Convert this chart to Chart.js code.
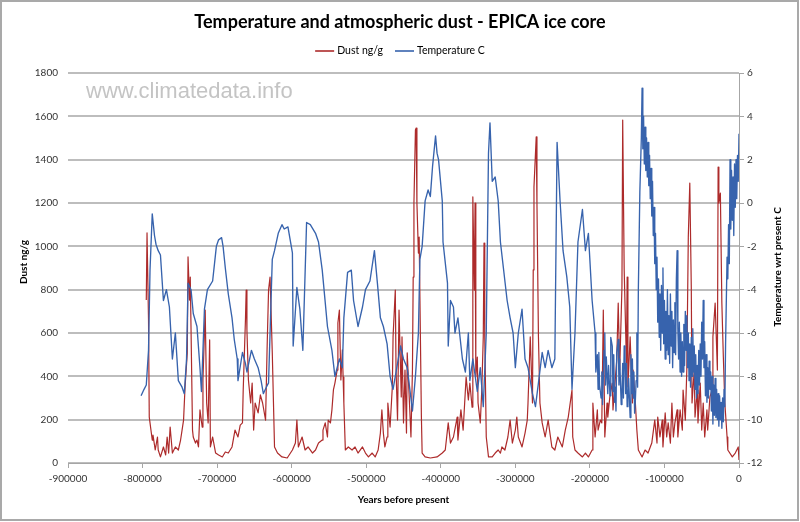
<!DOCTYPE html>
<html><head><meta charset="utf-8">
<script src="https://cdn.jsdelivr.net/npm/chart.js@4.4.1/dist/chart.umd.min.js"></script>
<style>html,body{margin:0;padding:0;background:#fff}canvas{display:block}</style>
</head><body>
<canvas id="c" width="800" height="522"></canvas>
<script>
// ---------- data ----------
const chartTitle = 'Temperature and atmospheric dust - EPICA ice core';
const seriesNames = ['Dust ng/g', 'Temperature C'];
const xTitle = 'Years before present';
const leftTitle = 'Dust ng/g';
const rightTitle = 'Temperature wrt present C';
const watermark = 'www.climatedata.info';
const xTicks = [-900000, -800000, -700000, -600000, -500000, -400000, -300000, -200000, -100000, 0];
const dustTicks = [0, 200, 400, 600, 800, 1000, 1200, 1400, 1600, 1800];
const tempTicks = [-12, -10, -8, -6, -4, -2, 0, 2, 4, 6];

// [thousand years before present, dust ng/g]
const dust = [
[-795,752],[-794,1062],[-792,660],[-791,212],[-787,106],[-786,129],[-783,60],[-780,120],[-779,60],[-776,28],[-772,74],[-769,37],[-767,120],[-765,46],[-763,166],[-760,46],[-756,74],[-752,60],[-749,106],[-747,152],[-745,198],[-743,351],[-740,508],[-739,951],[-737,752],[-736,858],[-733,152],[-732,120],[-729,92],[-727,106],[-725,74],[-723,245],[-720,166],[-719,383],[-716,706],[-714,277],[-712,185],[-710,568],[-709,74],[-706,120],[-702,46],[-698,37],[-693,28],[-689,51],[-685,46],[-680,74],[-676,152],[-672,120],[-669,175],[-666,185],[-665,337],[-662,660],[-661,798],[-660,614],[-658,383],[-655,277],[-653,369],[-651,152],[-649,277],[-645,231],[-642,314],[-639,277],[-635,198],[-633,522],[-631,798],[-629,858],[-626,508],[-623,74],[-619,46],[-613,28],[-606,23],[-599,60],[-595,92],[-593,198],[-591,74],[-586,120],[-582,60],[-578,74],[-572,46],[-568,60],[-564,92],[-559,106],[-558,152],[-555,185],[-552,120],[-551,198],[-548,185],[-546,245],[-544,337],[-542,369],[-539,429],[-538,646],[-536,706],[-534,383],[-532,522],[-531,397],[-530,277],[-528,60],[-524,74],[-519,60],[-515,74],[-511,46],[-505,74],[-501,46],[-497,28],[-492,46],[-488,28],[-484,60],[-481,138],[-479,245],[-477,138],[-475,74],[-472,120],[-471,277],[-468,166],[-465,351],[-464,582],[-461,798],[-460,429],[-458,198],[-456,706],[-453,305],[-452,582],[-450,185],[-448,429],[-446,138],[-445,508],[-442,277],[-440,120],[-438,429],[-437,858],[-436,1200],[-434,1537],[-433,1546],[-432,1200],[-430,969],[-429,1043],[-426,212],[-425,46],[-421,28],[-414,23],[-405,28],[-398,46],[-394,60],[-390,185],[-387,92],[-383,120],[-378,212],[-377,106],[-373,245],[-370,152],[-366,397],[-363,291],[-361,369],[-358,258],[-357,1228],[-355,798],[-354,1200],[-353,397],[-351,489],[-350,277],[-347,185],[-345,337],[-343,582],[-342,1015],[-341,582],[-339,120],[-336,28],[-331,28],[-327,46],[-323,60],[-320,46],[-318,74],[-314,60],[-310,120],[-307,198],[-304,92],[-300,152],[-298,212],[-296,120],[-291,74],[-287,138],[-284,198],[-283,277],[-280,582],[-277,277],[-276,891],[-275,1274],[-272,1505],[-271,1200],[-269,582],[-267,277],[-264,185],[-260,120],[-256,198],[-251,74],[-247,60],[-243,120],[-237,74],[-233,152],[-229,212],[-224,337],[-223,120],[-220,60],[-216,46],[-210,28],[-206,46],[-202,28],[-197,60],[-196,277],[-193,120],[-190,245],[-189,152],[-186,198],[-184,185],[-182,706],[-180,120],[-177,277],[-176,212],[-173,314],[-170,369],[-169,245],[-166,383],[-164,475],[-162,738],[-160,429],[-157,812],[-156,1583],[-154,891],[-151,462],[-150,858],[-149,351],[-146,582],[-143,277],[-142,429],[-139,277],[-137,152],[-135,60],[-130,28],[-126,60],[-122,46],[-117,92],[-113,198],[-110,92],[-109,212],[-106,120],[-103,198],[-102,74],[-99,231],[-97,120],[-95,185],[-92,92],[-90,277],[-88,120],[-86,185],[-83,245],[-82,120],[-79,245],[-76,152],[-75,337],[-72,198],[-70,429],[-68,1043],[-66,1292],[-64,812],[-63,277],[-60,429],[-59,212],[-56,337],[-55,185],[-52,369],[-50,152],[-48,277],[-46,120],[-43,245],[-42,152],[-39,305],[-36,337],[-35,582],[-32,738],[-29,429],[-28,1366],[-27,1200],[-25,1246],[-23,738],[-21,489],[-19,277],[-16,120],[-15,60],[-9,28],[-5,46],[-1,74],[0,14]
];

// [thousand years before present, temperature C relative to present]
const temperature = [
[-802,-8.9],[-798,-8.6],[-795,-8.4],[-792,-6.8],[-790,-3.1],[-787,-0.5],[-784,-1.5],[-782,-1.9],[-779,-2.2],[-776,-2.4],[-772,-4.5],[-768,-4.0],[-764,-4.8],[-760,-7.2],[-756,-6.0],[-752,-8.2],[-747,-8.5],[-744,-8.8],[-741,-7.2],[-739,-3.7],[-735,-4.0],[-732,-5.1],[-727,-5.7],[-723,-7.6],[-721,-8.7],[-717,-4.9],[-713,-4.0],[-706,-3.6],[-701,-2.0],[-698,-1.7],[-694,-1.6],[-692,-2.0],[-689,-3.0],[-685,-4.2],[-680,-5.3],[-677,-6.3],[-673,-7.2],[-672,-8.2],[-666,-6.9],[-662,-7.4],[-660,-7.8],[-654,-6.8],[-650,-7.2],[-645,-7.6],[-641,-8.2],[-638,-8.8],[-634,-8.5],[-631,-8.3],[-626,-2.6],[-623,-2.2],[-618,-1.4],[-613,-1.0],[-610,-1.2],[-605,-1.1],[-599,-2.3],[-598,-6.6],[-593,-3.9],[-589,-4.9],[-585,-6.8],[-580,-0.9],[-575,-1.0],[-568,-1.4],[-564,-1.8],[-559,-3.1],[-552,-5.7],[-546,-6.8],[-542,-8.0],[-536,-7.2],[-532,-7.6],[-530,-5.3],[-525,-3.2],[-520,-3.1],[-517,-4.5],[-511,-5.7],[-505,-4.8],[-501,-4.0],[-495,-3.6],[-489,-2.2],[-485,-3.7],[-481,-5.3],[-477,-5.7],[-472,-6.5],[-468,-8.0],[-464,-8.6],[-458,-7.4],[-454,-6.6],[-450,-7.2],[-445,-7.6],[-438,-9.6],[-434,-8.0],[-430,-6.0],[-428,-2.6],[-425,-2.0],[-421,0.1],[-417,0.6],[-414,0.3],[-411,1.7],[-407,3.1],[-405,2.3],[-403,2.0],[-398,0.1],[-397,-1.8],[-391,-3.7],[-390,-6.6],[-387,-4.5],[-383,-4.8],[-381,-6.0],[-377,-5.3],[-371,-7.2],[-367,-7.8],[-363,-6.0],[-361,-8.2],[-357,-7.2],[-351,-8.7],[-347,-7.6],[-343,-9.4],[-339,-6.0],[-336,2.3],[-334,3.7],[-331,1.0],[-327,1.2],[-323,0.1],[-320,-1.8],[-316,-3.0],[-311,-4.5],[-307,-5.3],[-303,-6.0],[-300,-7.6],[-296,-6.0],[-291,-4.9],[-287,-7.2],[-283,-7.6],[-277,-8.8],[-273,-9.4],[-269,-8.3],[-264,-6.9],[-260,-7.6],[-256,-6.8],[-251,-7.6],[-247,-7.2],[-244,2.8],[-240,0.1],[-236,-2.2],[-231,-3.4],[-227,-4.8],[-224,-8.6],[-220,-6.0],[-216,-1.8],[-210,-0.3],[-206,-2.2],[-202,-1.4],[-197,-4.5],
[-193,-6.0],[-192,-7.8],[-190,-7.0],[-189,-8.6],[-188,-6.9],[-187,-8.4],[-185,-9.0],[-184,-7.8],[-183,-9.3],[-181,-6.8],[-180,-6.0],[-179,-8.4],[-178,-7.1],[-176,-8.8],[-175,-7.5],[-173,-8.9],[-172,-6.2],[-170,-6.6],[-169,-8.7],[-168,-7.0],[-167,-9.2],[-166,-8.5],[-165,-9.6],[-164,-6.9],[-162,-6.3],[-161,-8.4],[-160,-7.2],[-158,-9.3],[-157,-8.8],[-156,-7.4],[-155,-9.0],[-154,-6.6],[-153,-6.9],[-152,-8.8],[-151,-7.4],[-150,-9.4],[-149,-9.1],[-148,-8.1],[-146,-9.9],[-145,-7.0],[-144,-8.8],[-143,-7.2],[-142,-9.0],[-141,-7.8],[-140,-9.7],[-139,-9.1],[-138,-8.2],[-137,-6.0],[-136,-8.5],[-135,-4.0],[-133,0.5],[-131,3.0],
[-130,5.3],[-129,2.5],[-128,4.0],[-127,1.8],[-126,3.5],[-125,1.5],[-124,3.0],[-123,1.2],[-122,2.8],[-121,0.8],[-120,2.2],[-119,0.2],[-118,1.6],[-117,-0.6],[-116,1.0],[-115,-1.5],[-114,-0.2],[-113,-2.8],[-112,-1.4],[-111,-4.0],[-110,-2.5],[-109,-5.5],[-108,-3.5],[-107,-6.2],[-106,-4.2],[-105,-6.8],[-104,-3.8],[-103,-6.0],[-102,-3.0],[-101,-6.5],[-100,-4.5],[-99,-7.2],[-98,-5.0],[-97,-6.8],[-96,-4.0],[-95,-7.0],[-94,-5.2],[-93,-7.4],[-92,-4.2],[-91,-6.6],[-90,-5.0],[-89,-7.6],[-88,-5.4],[-87,-6.9],[-86,-4.6],[-85,-7.0],[-84,-3.5],[-83,-2.2],[-82,-5.8],[-81,-7.2],[-80,-5.5],[-79,-7.8],[-78,-6.0],[-77,-8.0],[-76,-6.4],[-75,-7.8],[-74,-5.6],[-73,-7.5],[-72,-5.0],[-71,-6.8],[-70,-5.2],[-69,-7.6],[-68,-6.0],[-67,-8.2],[-66,-6.5],[-65,-8.5],[-64,-6.2],[-63,-8.0],[-62,-5.8],[-61,-7.8],[-60,-6.6],[-59,-8.6],[-58,-7.0],[-57,-9.0],[-56,-7.5],[-55,-8.8],[-54,-6.8],[-53,-8.4],[-52,-6.5],[-51,-8.0],[-50,-5.5],[-49,-7.2],[-48,-4.5],[-47,-7.6],[-46,-6.4],[-45,-8.9],[-44,-7.0],[-43,-9.2],[-42,-7.6],[-41,-9.0],[-40,-7.3],[-39,-8.6],[-38,-7.8],[-37,-9.6],[-36,-8.0],[-35,-10.2],[-34,-8.4],[-33,-9.8],[-32,-8.1],[-31,-9.9],[-30,-8.6],[-29,-10.0],[-28,-8.8],[-27,-10.3],[-26,-8.9],[-25,-10.0],[-24,-9.2],[-23,-10.4],[-22,-9.0],[-21,-10.1],[-20,-8.6],[-19,-9.4],[-18,-6.5],[-17,-4.5],[-16,-2.5],[-15,-3.5],[-14,-1.0],[-13,-2.8],[-12,2.0],[-11,-1.2],[-10,1.5],[-9,-0.8],[-8,1.2],[-7,-1.5],[-6,1.8],[-5,-0.2],[-4,2.0],[-3,0.2],[-2,2.2],[-1,1.0],[0,3.2]
];

// ---------- styling ----------
const FONT = 'Lato, "Open Sans", sans-serif';
const DUST_COLOR = '#ad2b2b';
const TEMP_COLOR = '#3763ad';
const GRID_COLOR = '#bdbdbd';
const AXIS_COLOR = '#a6a6a6';
const TICK_COLOR = '#333333';

const toPoints = arr => arr.map(([k, v]) => ({x: k * 1000, y: v}));
const fixTicks = list => scale => { scale.ticks = list.map(v => ({value: v})); };
const plainLabel = v => String(v);

const deco = {
  id: 'deco',
  beforeDraw(chart) {
    const ctx = chart.ctx;
    ctx.save();
    ctx.fillStyle = '#ffffff';
    ctx.fillRect(0, 0, chart.width, chart.height);
    ctx.restore();
  },
  beforeDatasetsDraw(chart) {
    const ctx = chart.ctx;
    ctx.save();
    ctx.font = '22px "Liberation Sans", Arial, sans-serif';
    ctx.fillStyle = '#c4c4c4';
    ctx.textBaseline = 'alphabetic';
    ctx.textAlign = 'left';
    ctx.fillText(watermark, 86, 98);
    ctx.restore();
  },
  afterDraw(chart) {
    const ctx = chart.ctx;
    ctx.save();
    // outer frame
    ctx.strokeStyle = '#a9a9a9';
    ctx.lineWidth = 2;
    ctx.strokeRect(1, 1, 797, 519);
    // legend
    ctx.font = '10.5px ' + FONT;
    ctx.textBaseline = 'middle';
    ctx.textAlign = 'left';
    const sw = 19, gap = 3, itemGap = 12, ly = 51;
    const items = chart.data.datasets.map(d => ({text: d.label, color: d.borderColor, w: ctx.measureText(d.label).width}));
    const total = items.reduce((s, it) => s + sw + gap + it.w, 0) + itemGap * (items.length - 1);
    let x = 400 - total / 2;
    items.forEach(it => {
      ctx.strokeStyle = it.color;
      ctx.globalAlpha = 0.8;
      ctx.lineWidth = 2;
      ctx.beginPath(); ctx.moveTo(x, ly); ctx.lineTo(x + sw, ly); ctx.stroke();
      ctx.globalAlpha = 1;
      ctx.fillStyle = '#000';
      ctx.fillText(it.text, x + sw + gap, ly);
      x += sw + gap + it.w + itemGap;
    });
    // vertical axis titles (both read bottom to top)
    ctx.font = 'bold 10px ' + FONT;
    ctx.textAlign = 'center';
    ctx.fillStyle = '#000';
    ctx.save(); ctx.translate(24, 262); ctx.rotate(-Math.PI / 2); ctx.fillText(leftTitle, 0, 0); ctx.restore();
    ctx.save(); ctx.translate(778, 267); ctx.rotate(-Math.PI / 2); ctx.fillText(rightTitle, 0, 0); ctx.restore();
    ctx.restore();
  }
};

new Chart(document.getElementById('c'), {
  type: 'line',
  data: {
    datasets: [
      {label: seriesNames[0], data: toPoints(dust), yAxisID: 'y', borderColor: DUST_COLOR, backgroundColor: DUST_COLOR,
       borderWidth: 1.2, pointRadius: 0, tension: 0, borderJoinStyle: 'round', order: 2},
      {label: seriesNames[1], data: toPoints(temperature), yAxisID: 'y2', borderColor: TEMP_COLOR, backgroundColor: TEMP_COLOR,
       borderWidth: 1.35, pointRadius: 0, tension: 0, borderJoinStyle: 'round', order: 1}
    ]
  },
  options: {
    responsive: false,
    animation: false,
    devicePixelRatio: 1,
    layout: {padding: 0},
    plugins: {
      legend: {display: false},
      tooltip: {enabled: false},
      title: {display: true, text: chartTitle, color: '#000', font: {family: FONT, size: 18, weight: 'bold'},
              padding: {top: 11, bottom: 40.4}}
    },
    scales: {
      x: {
        type: 'linear', position: 'bottom', min: -900000, max: 0,
        afterBuildTicks: fixTicks(xTicks),
        afterFit: s => { s.height = 59; },
        ticks: {callback: plainLabel, color: TICK_COLOR, font: {family: FONT, size: 10}, padding: 5, maxRotation: 0, autoSkip: false},
        grid: {drawOnChartArea: false, drawTicks: true, tickLength: 5, color: AXIS_COLOR, lineWidth: 1},
        border: {display: true, color: AXIS_COLOR, width: 1},
        title: {display: true, text: xTitle, color: '#000', font: {family: FONT, size: 10, weight: 'bold'}, padding: {top: 0, bottom: 16}}
      },
      y: {
        type: 'linear', position: 'left', min: 0, max: 1800,
        afterBuildTicks: fixTicks(dustTicks),
        afterFit: s => { s.width = 68; },
        ticks: {callback: plainLabel, color: TICK_COLOR, font: {family: FONT, size: 10}, padding: 10},
        grid: {drawTicks: false, color: GRID_COLOR, lineWidth: 2},
        border: {display: false}
      },
      y2: {
        type: 'linear', position: 'right', min: -12, max: 6,
        afterBuildTicks: fixTicks(tempTicks),
        afterFit: s => { s.width = 61; },
        ticks: {callback: plainLabel, color: TICK_COLOR, font: {family: FONT, size: 10}, padding: 3},
        grid: {drawOnChartArea: false, drawTicks: true, tickLength: 5, color: AXIS_COLOR, lineWidth: 1},
        border: {display: true, color: AXIS_COLOR, width: 1}
      }
    }
  },
  plugins: [deco]
});
</script>
</body></html>
